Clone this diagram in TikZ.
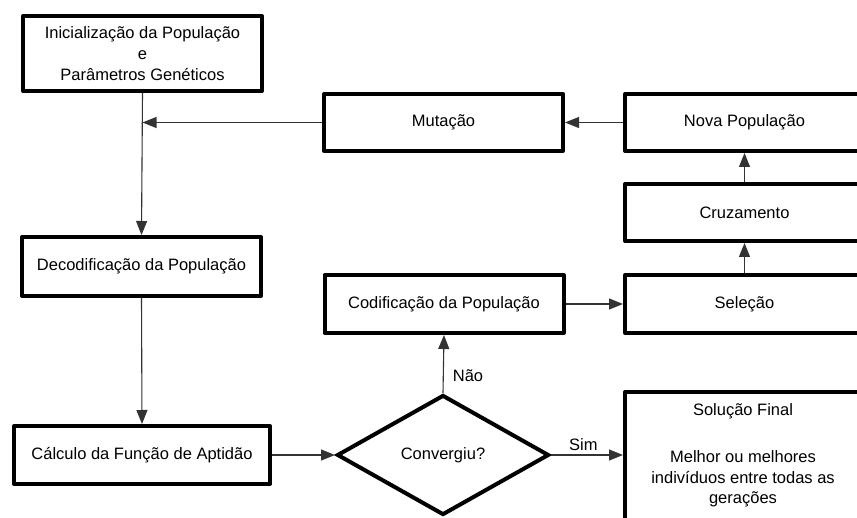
\documentclass[tikz,border=0pt]{standalone}
\usepackage{fontspec}
\setmainfont{Liberation Sans}
\usetikzlibrary{shapes.geometric,arrows.meta,calc}

\tikzset{
  box/.style={draw, line width=4pt, rectangle, line join=round, minimum width=239pt,
              inner sep=0pt, align=center, font=\fontsize{16.5}{21}\selectfont},
  decision/.style={draw, line width=4pt, diamond, aspect=1.74, line join=miter,
                   minimum width=212pt, minimum height=120pt, inner sep=0pt,
                   font=\fontsize{16.5}{21}\selectfont},
  flow/.style={line width=1.1pt, draw=black!80, -{Triangle[length=14pt,width=11pt]}},
  plain/.style={line width=1.1pt, draw=black!80},
  lbl/.style={font=\fontsize{16.5}{21}\selectfont, inner sep=0pt},
}

\begin{document}
\begin{tikzpicture}[x=1pt,y=-1pt]
  \useasboundingbox (0,0) rectangle (857,518);
  \clip (0,0) rectangle (857,518);

  % left column
  \node[box, minimum height=75pt] (init) at (142.5,53.5)
       {Inicialização da População\\e\\Parâmetros Genéticos};
  \node[box, minimum height=59pt] (deco) at (141.5,266.5) {Decodificação da População};
  \node[box, minimum width=256pt, minimum height=58pt] (calc) at (142,455)
       {Cálculo da Função de Aptidão};

  % middle column
  \node[box, minimum height=57pt] (mut) at (443.5,122.5) {Mutação};
  \node[box, minimum height=58pt] (cod) at (444,304) {Codificação da População};
  \node[decision] (conv) at (443,455) {Convergiu?};

  % right column (runs past the right edge)
  \node[box, minimum height=57pt] (nova) at (744.5,122.5) {Nova População};
  \node[box, minimum height=57pt] (cruz) at (744.5,212.5) {Cruzamento};
  \node[box, minimum height=58pt] (sel) at (744.5,304) {Seleção};
  \node[box, minimum height=240pt, anchor=north] (sol) at (744.5,390) {};
  \node[lbl, align=center, anchor=north, font=\fontsize{16.5}{20.5}\selectfont]
       (soltxt) at (743,403)
       {Solução Final\\[27pt]Melhor ou melhores\\indivíduos entre todas as\\gerações};

  % connectors
  \coordinate (join) at (mut.west -| init.south);
  \draw[flow] (init.south) -- (deco.north);
  \draw[flow] (mut.west) -- (join);
  \draw[flow] (deco.south) -- (calc.north);
  \draw[flow] (calc.east) -- (conv.west);
  \draw[flow] (conv.north) -- node[lbl, pos=0.3, right=9pt] {Não} (cod.south);
  \draw[flow] (conv.east) -- node[lbl, above=4pt, pos=0.45] {Sim} (conv.east -| sol.west);
  \draw[flow] (cod.east) -- (sel.west);
  \draw[flow] (sel.north) -- (cruz.south);
  \draw[flow] (cruz.north) -- (nova.south);
  \draw[flow] (nova.west) -- (mut.east);
\end{tikzpicture}
\end{document}
